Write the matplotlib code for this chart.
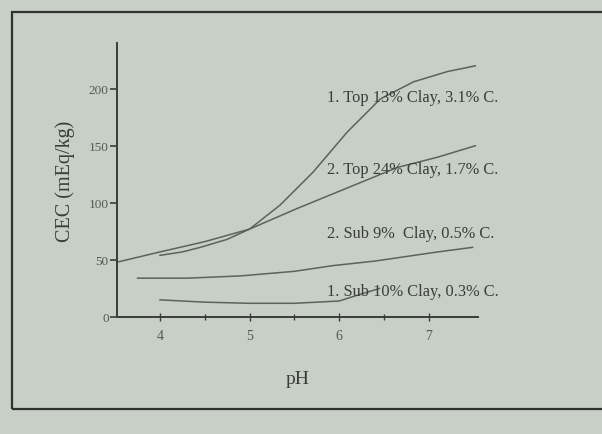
import matplotlib
matplotlib.use("Agg")
import matplotlib.pyplot as plt
from matplotlib.patches import Rectangle

## Data

ph_top13 = [4.0, 4.25, 4.45, 4.75, 5.0, 5.34, 5.71, 6.09, 6.46, 6.83, 7.21, 7.52]
cec_top13 = [54, 57, 61, 68, 77, 98, 127, 162, 191, 206, 215, 220]

ph_top24 = [3.52, 4.0, 4.5, 5.0, 5.53, 6.09, 6.65, 7.1, 7.52]
cec_top24 = [48, 57, 66, 77, 95, 113, 131, 140, 150]

ph_sub9 = [3.75, 4.3, 4.9, 5.5, 5.93, 6.4, 6.75, 7.1, 7.49]
cec_sub9 = [34, 34, 36, 40, 45, 49, 53, 57, 61]

ph_sub10 = [4.0, 4.5, 5.0, 5.5, 6.0, 6.2, 6.45]
cec_sub10 = [15, 13, 12, 12, 14, 19, 25]

labels = ["1. Top 13% Clay, 3.1% C.", "2. Top 24% Clay, 1.7% C.",
          "2. Sub 9%  Clay, 0.5% C.", "1. Sub 10% Clay, 0.3% C."]
label_y = [193, 130, 74, 23]

## Style

bg = "#c8cfc7"
ink = "#3a3d3a"
line_col = "#5c625c"
plt.rcParams['font.family'] = ['Liberation Serif', 'DejaVu Serif']

fig = plt.figure(figsize=(6.02, 4.35), dpi=100, facecolor=bg)

# page frame
fig.patches.append(Rectangle((12/602, 1-410/435), 1.0, (410-13)/435,
                             transform=fig.transFigure, fill=False,
                             edgecolor="#2f322f", lw=1.6))

ax = fig.add_axes([117/602, 1-318/435, 361/602, 274/435])
ax.set_facecolor("none")

for xs, ys in [(ph_top13, cec_top13), (ph_top24, cec_top24),
               (ph_sub9, cec_sub9), (ph_sub10, cec_sub10)]:
    ax.plot(xs, ys, color=line_col, lw=1.1)

for txt, y in zip(labels, label_y):
    ax.text(5.86, y, txt, fontsize=11.8, color=ink, va="center", ha="left")

ax.set_xlim(3.52, 7.55)
ax.set_ylim(0, 240)
ax.set_xticks([4, 5, 6, 7])
ax.set_xticks([4.5, 5.5, 6.5], minor=True)
ax.set_yticks([0, 50, 100, 150, 200])

for s in ["top", "right"]:
    ax.spines[s].set_visible(False)
for s in ["left", "bottom"]:
    ax.spines[s].set_color(ink)
    ax.spines[s].set_linewidth(1.4)

ax.tick_params(axis="y", direction="out", length=5, width=1.2, color=ink,
               labelsize=9.5, labelcolor="#555a55", pad=1)
ax.tick_params(axis="x", which="major", direction="inout", length=6, width=1.0,
               color=ink, labelsize=10, labelcolor="#555a55", pad=6)
ax.tick_params(axis="x", which="minor", direction="inout", length=4, width=1.0,
               color=ink)

ax.set_ylabel("CEC (mEq/kg)", fontsize=14.5, color=ink, labelpad=10)
ax.set_xlabel("pH", fontsize=14, color=ink, labelpad=20)

fig.savefig("out.png", dpi=100, facecolor=bg)
